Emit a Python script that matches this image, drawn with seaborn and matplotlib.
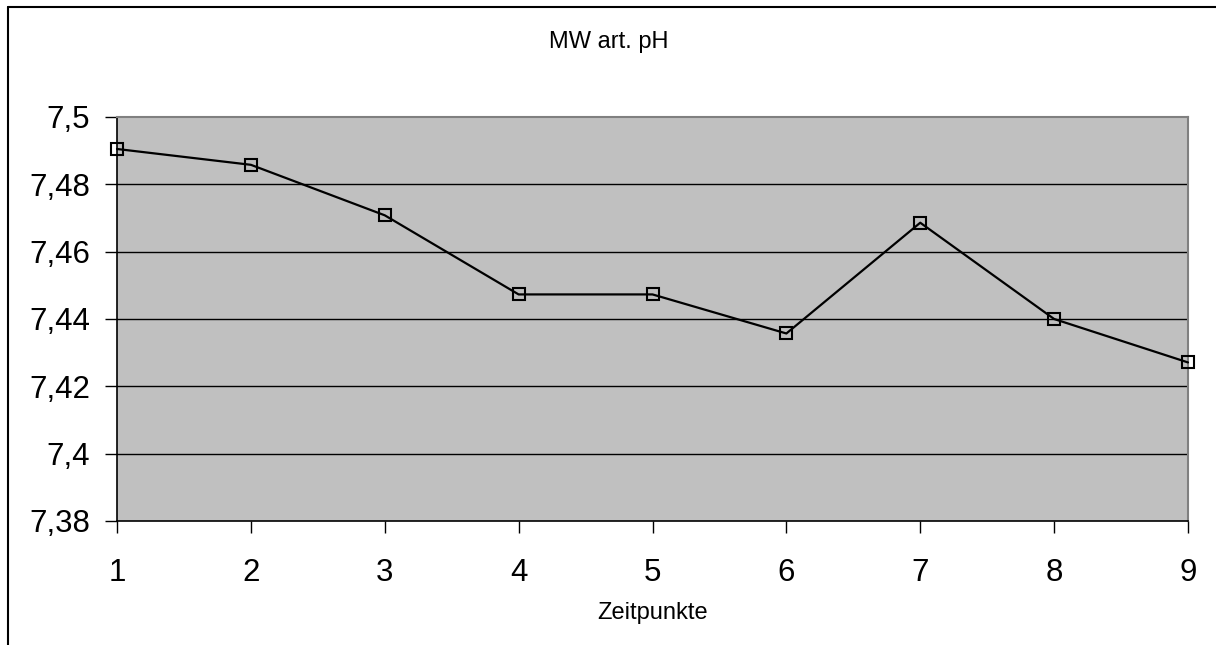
import matplotlib
matplotlib.use("Agg")
import matplotlib.pyplot as plt
import seaborn as sns
import pandas as pd
from matplotlib.lines import Line2D

zeitpunkte = [1, 2, 3, 4, 5, 6, 7, 8, 9]
ph_werte = [7.4905, 7.4858, 7.4708, 7.4473, 7.4473, 7.4357, 7.4686, 7.4400, 7.4271]
y_ticks = [7.38, 7.40, 7.42, 7.44, 7.46, 7.48, 7.50]
y_labels = ["7,38", "7,4", "7,42", "7,44", "7,46", "7,48", "7,5"]

sns.set_theme(style="white")
plt.rcParams["font.family"] = ["Liberation Sans", "DejaVu Sans"]
plt.rcParams["text.color"] = "black"
plt.rcParams["axes.labelcolor"] = "black"
plt.rcParams["xtick.color"] = "black"
plt.rcParams["ytick.color"] = "black"

df = pd.DataFrame({"Zeitpunkt": zeitpunkte, "pH": ph_werte})

fig = plt.figure(figsize=(12.16, 6.45), dpi=100)
ax = fig.add_axes([117 / 1216, 1 - 521 / 645, (1188 - 117) / 1216, (521 - 117) / 645])
ax.set_facecolor("#c0c0c0")

sns.lineplot(data=df, x="Zeitpunkt", y="pH", ax=ax, color="black", linewidth=1.6,
             marker="s", markersize=8, markerfacecolor="none",
             markeredgecolor="black", markeredgewidth=1.5, zorder=3)
for line in ax.lines:
    line.set_clip_on(False)

ax.set_xlim(1, 9)
ax.set_ylim(7.38, 7.50)
ax.set_xticks(zeitpunkte)
ax.set_xticklabels([str(z) for z in zeitpunkte], fontsize=22.5)
ax.set_yticks(y_ticks)
ax.set_yticklabels(y_labels, fontsize=22.5)
ax.tick_params(axis="both", direction="out", length=8.5, width=1, color="black",
               labelcolor="black", bottom=True, left=True)
ax.tick_params(axis="x", pad=18)
ax.tick_params(axis="y", pad=11)

for y in y_ticks[1:-1]:
    ax.axhline(y, color="black", linewidth=1, zorder=1)

for side in ("left", "bottom"):
    ax.spines[side].set_color("black")
    ax.spines[side].set_linewidth(1.2)
for side in ("top", "right"):
    ax.spines[side].set_color("#808080")
    ax.spines[side].set_linewidth(1.5)

ax.set_xlabel("Zeitpunkte", fontsize=17, labelpad=10.5, color="black")
ax.set_ylabel("")

fig.text(609 / 1216, 1 - 42 / 645, "MW art. pH", ha="center", va="center",
         fontsize=17, color="black")

# chart frame (left and top edges)
fig.add_artist(Line2D([8 / 1216, 8 / 1216], [0, 1 - 7 / 645], transform=fig.transFigure,
                      color="black", linewidth=1.5))
fig.add_artist(Line2D([8 / 1216, 1], [1 - 7 / 645, 1 - 7 / 645], transform=fig.transFigure,
                      color="black", linewidth=1.5))

fig.savefig("out.png", dpi=100, facecolor="white")
